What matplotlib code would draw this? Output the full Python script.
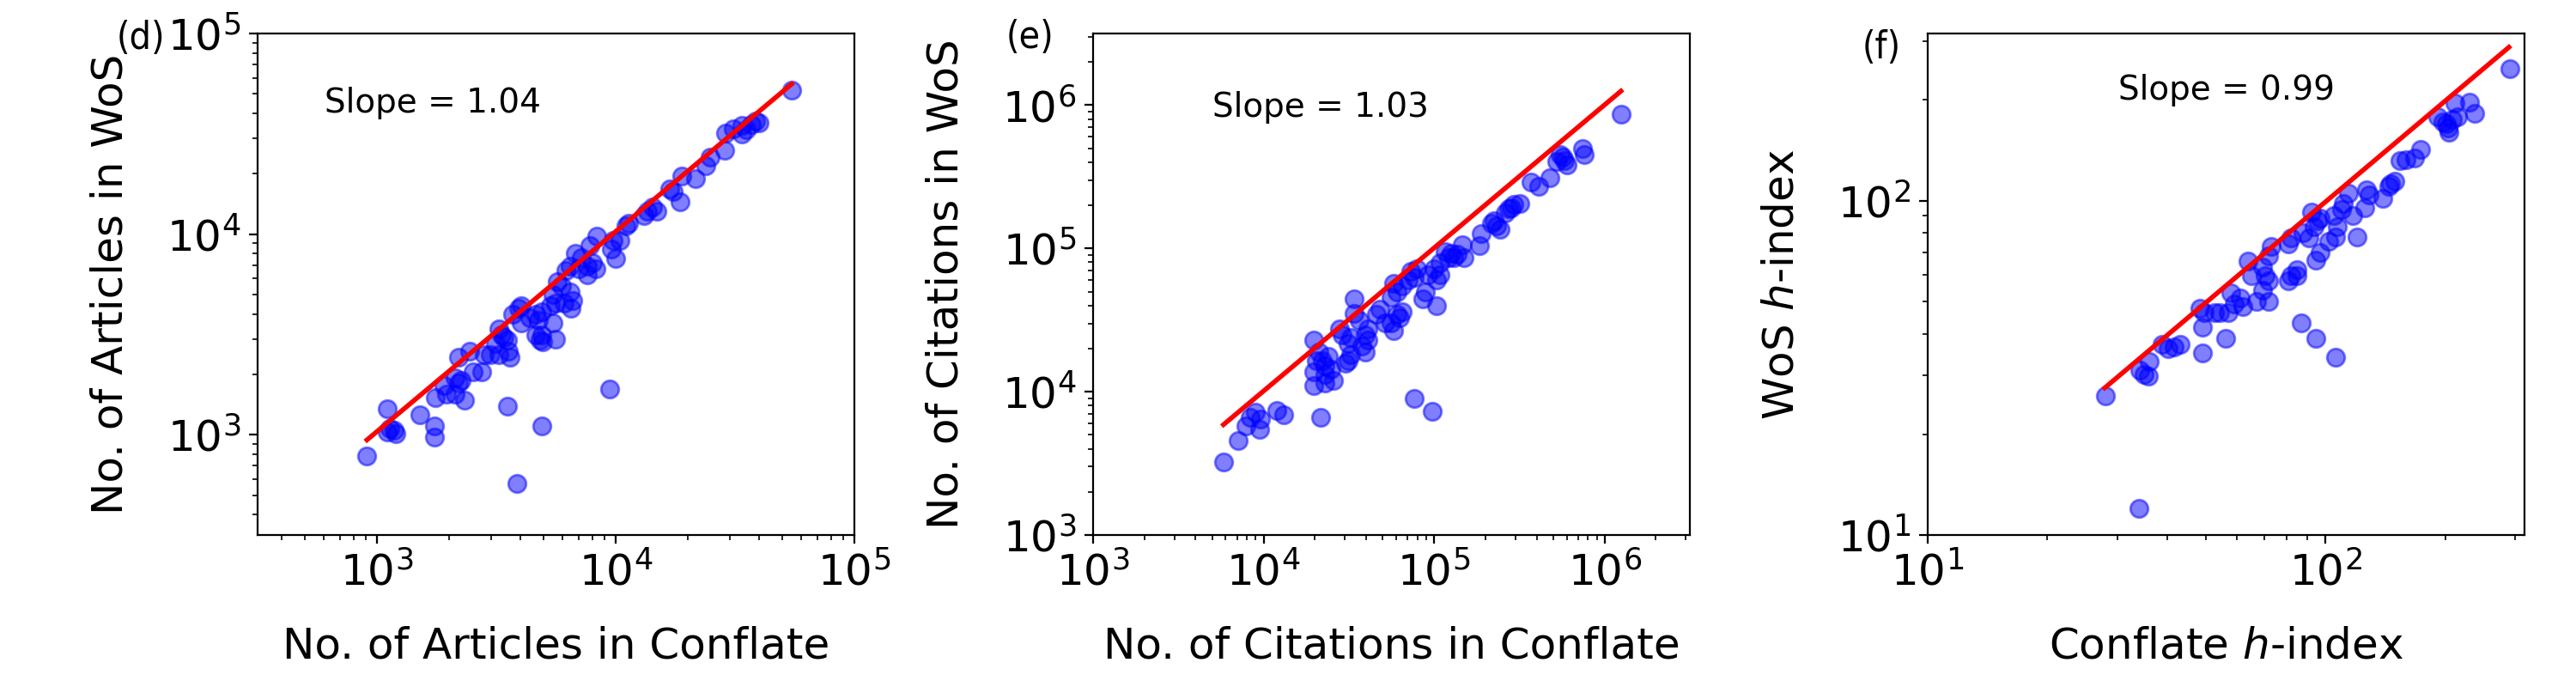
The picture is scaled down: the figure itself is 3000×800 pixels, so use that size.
import numpy as np
import matplotlib
matplotlib.use("Agg")
import matplotlib.pyplot as plt
from matplotlib import font_manager

# ---------------- data (log10 values) ----------------
articles_conflate_log10 = [4.737, 4.587, 4.569, 4.599, 4.527, 4.545, 4.527, 4.461, 4.455, 4.395,
                           4.377, 4.335, 4.275, 4.228, 4.240, 4.269, 4.156, 4.132, 4.120, 4.174,
                           4.054, 4.042, 4.018, 3.988, 3.982, 4.000, 3.922, 3.892, 3.832, 3.856,
                           3.880, 3.904, 3.916, 3.880, 3.844, 3.808, 3.790, 3.754, 3.772, 3.808,
                           3.820, 3.814, 3.784, 3.749, 3.725, 3.737, 3.689, 3.665, 3.677, 3.641,
                           3.605, 3.593, 3.605, 3.689, 3.683, 3.695, 3.749, 3.665, 3.509, 3.521,
                           3.533, 3.497, 3.545, 3.551, 3.557, 3.509, 3.473, 3.449, 3.437, 3.401,
                           3.389, 3.341, 3.329, 3.353, 3.341, 3.293, 3.281, 3.246, 3.365, 3.329,
                           3.042, 3.054, 3.072, 3.078, 3.042, 3.180, 3.240, 3.240, 2.958, 3.976,
                           3.545, 3.689, 3.587, 3.569, 3.737, 4.491]
articles_wos_log10 = [4.719, 4.562, 4.548, 4.555, 4.541, 4.519, 4.498, 4.505, 4.419, 4.384,
                      4.341, 4.277, 4.291, 4.227, 4.213, 4.160, 4.134, 4.113, 4.091, 4.116,
                      4.056, 4.041, 3.970, 3.970, 3.927, 3.877, 3.991, 3.942, 3.906, 3.884,
                      3.842, 3.856, 3.827, 3.799, 3.827, 3.842, 3.820, 3.763, 3.742, 3.713,
                      3.670, 3.628, 3.656, 3.656, 3.642, 3.556, 3.613, 3.599, 3.571, 3.585,
                      3.556, 3.628, 3.642, 3.499, 3.471, 3.464, 3.478, 3.499, 3.528, 3.499,
                      3.485, 3.456, 3.471, 3.414, 3.385, 3.399, 3.399, 3.399, 3.314, 3.314,
                      3.414, 3.385, 3.285, 3.271, 3.257, 3.200, 3.243, 3.185, 3.171, 3.200,
                      3.128, 3.029, 3.021, 3.007, 3.014, 3.100, 3.043, 2.986, 2.893, 3.228,
                      3.143, 3.043, 2.757, 3.599, 3.699, 4.526]
articles_fit_x_log10 = [2.958, 4.737]
articles_fit_y_log10 = [2.974, 4.748]
articles_slope = 1.04

citations_conflate_log10 = [6.096, 5.872, 5.880, 5.738, 5.764, 5.780, 5.721, 5.679, 5.570, 5.612,
                            5.503, 5.469, 5.436, 5.419, 5.352, 5.369, 5.385, 5.335, 5.276, 5.268,
                            5.167, 5.175, 5.134, 5.100, 5.066, 5.083, 5.033, 4.999, 4.966, 5.033,
                            5.016, 4.898, 4.882, 4.848, 4.814, 4.781, 4.764, 4.747, 4.949, 4.932,
                            5.016, 4.814, 4.781, 4.797, 4.747, 4.764, 4.680, 4.663, 4.714, 4.529,
                            4.529, 4.563, 4.613, 4.596, 4.613, 4.579, 4.596, 4.512, 4.462, 4.495,
                            4.445, 4.512, 4.495, 4.479, 4.378, 4.344, 4.311, 4.361, 4.395, 4.294,
                            4.361, 4.412, 4.361, 4.294, 4.294, 4.327, 3.950, 3.924, 3.983, 3.975,
                            3.899, 4.076, 4.118, 3.849, 3.765, 4.336, 4.882, 4.991, 4.865, 5.117,
                            5.453, 5.755]
citations_wos_log10 = [5.935, 5.695, 5.655, 5.655, 5.615, 5.586, 5.606, 5.496, 5.466, 5.436,
                       5.316, 5.306, 5.276, 5.246, 5.196, 5.156, 5.136, 5.176, 5.106, 5.017,
                       5.027, 4.937, 4.957, 4.967, 4.977, 4.937, 4.897, 4.857, 4.817, 4.817,
                       4.777, 4.857, 4.797, 4.777, 4.738, 4.698, 4.758, 4.658, 4.698, 4.648,
                       4.598, 4.558, 4.538, 4.518, 4.478, 4.428, 4.578, 4.538, 4.478, 4.648,
                       4.548, 4.498, 4.438, 4.398, 4.359, 4.319, 4.279, 4.379, 4.398, 4.339,
                       4.438, 4.259, 4.219, 4.199, 4.249, 4.219, 4.219, 4.179, 4.159, 4.139,
                       4.119, 4.080, 4.060, 4.040, 4.359, 4.279, 3.860, 3.820, 3.810, 3.740,
                       3.760, 3.870, 3.840, 3.660, 3.511, 3.820, 3.950, 3.864, 4.837, 4.937,
                       5.286, 5.635]
citations_fit_x_log10 = [3.765, 6.096]
citations_fit_y_log10 = [3.770, 6.098]
citations_slope = 1.03

hindex_conflate_log10 = [2.463, 2.361, 2.375, 2.325, 2.332, 2.318, 2.282, 2.296, 2.307, 2.311,
                         2.238, 2.224, 2.202, 2.188, 2.174, 2.163, 2.159, 2.145, 2.102, 2.109,
                         2.098, 2.058, 2.044, 2.040, 2.069, 2.080, 2.022, 2.029, 2.026, 2.008,
                         1.986, 1.979, 1.972, 1.965, 1.958, 1.943, 1.986, 1.975, 1.914, 1.907,
                         1.929, 1.914, 1.907, 1.929, 1.864, 1.856, 1.842, 1.849, 1.856, 1.806,
                         1.813, 1.842, 1.856, 1.827, 1.763, 1.785, 1.792, 1.770, 1.756, 1.734,
                         1.720, 1.684, 1.695, 1.691, 1.749, 1.691, 1.634, 1.619, 1.605, 1.590,
                         1.558, 1.533, 1.543, 1.554, 1.446, 1.940, 1.975, 2.026, 1.531, 2.304]
hindex_wos_log10 = [2.394, 2.295, 2.261, 2.291, 2.252, 2.244, 2.252, 2.235, 2.218, 2.205,
                    2.153, 2.128, 2.123, 2.119, 2.059, 2.051, 2.042, 2.008, 2.033, 2.016,
                    1.978, 2.021, 1.991, 1.973, 1.956, 1.892, 1.956, 1.922, 1.892, 1.879,
                    1.948, 1.939, 1.922, 1.965, 1.888, 1.905, 1.845, 1.823, 1.888, 1.871,
                    1.793, 1.776, 1.759, 1.776, 1.862, 1.836, 1.802, 1.776, 1.759, 1.819,
                    1.776, 1.733, 1.699, 1.699, 1.725, 1.708, 1.682, 1.690, 1.665, 1.665,
                    1.665, 1.678, 1.665, 1.622, 1.588, 1.545, 1.570, 1.562, 1.558, 1.570,
                    1.519, 1.493, 1.480, 1.476, 1.416, 1.635, 1.589, 1.532, 1.079, 2.231]
hindex_fit_x_log10 = [1.445, 2.461]
hindex_fit_y_log10 = [1.440, 2.459]
hindex_slope = 0.99

panel_tags = ["(d)", "(e)", "(f)"]
x_labels = ["No. of Articles in Conflate", "No. of Citations in Conflate", "Conflate $h$-index"]
y_labels = ["No. of Articles in WoS", "No. of Citations in WoS", "WoS $h$-index"]
x_limits = [(10**2.5, 1e5), (1e3, 10**6.5), (10, 10**2.5)]
y_limits = [(10**2.5, 1e5), (1e3, 10**6.5), (10, 10**2.5)]

# ---------------- figure ----------------
plt.rcParams['font.family'] = ['DejaVu Sans']
fig = plt.figure(figsize=(15, 4), dpi=200)

# narrow font for the panel tags, if one is installed
tag_props = None
for f in font_manager.fontManager.ttflist:
    fn = f.fname.lower()
    if ('dejavusanscondensed.ttf' in fn) or ('liberationsansnarrow-regular' in fn):
        tag_props = font_manager.FontProperties(fname=f.fname, size=16)
        break
if tag_props is None:
    tag_props = font_manager.FontProperties(family='DejaVu Sans', size=14)

panels = [
    (articles_conflate_log10, articles_wos_log10, articles_fit_x_log10, articles_fit_y_log10, articles_slope),
    (citations_conflate_log10, citations_wos_log10, citations_fit_x_log10, citations_fit_y_log10, citations_slope),
    (hindex_conflate_log10, hindex_wos_log10, hindex_fit_x_log10, hindex_fit_y_log10, hindex_slope),
]
lefts = [0.1, 0.4243, 0.7483]
slope_pos = [(0.112, 0.861), (0.20, 0.853), (0.319, 0.887)]
tag_pos = [(-0.155, 0.99), (-0.066, 0.993), (-0.045, 0.971)]

for i, (xl, yl, fx, fy, slope) in enumerate(panels):
    ax = fig.add_axes([lefts[i], 0.22125, 0.2317, 0.73])
    x = 10 ** np.array(xl)
    y = 10 ** np.array(yl)
    ax.scatter(x, y, s=55, c='blue', alpha=0.5, zorder=2)
    ax.plot(10 ** np.array(fx), 10 ** np.array(fy), color='red', lw=2, zorder=3)
    ax.set_xscale('log')
    ax.set_yscale('log')
    ax.set_xlim(*x_limits[i])
    ax.set_ylim(*y_limits[i])
    ax.tick_params(axis='both', which='major', labelsize=18)
    ax.set_xlabel(x_labels[i], fontsize=18, labelpad=13)
    ax.set_ylabel(y_labels[i], fontsize=18, labelpad=15)
    ax.text(slope_pos[i][0], slope_pos[i][1], f"Slope = {slope:.2f}", transform=ax.transAxes,
            fontsize=14, ha='left', va='center')
    ax.text(tag_pos[i][0], tag_pos[i][1], panel_tags[i], transform=ax.transAxes,
            ha='right', va='center', fontproperties=tag_props)

fig.savefig("out.png", dpi=200)
